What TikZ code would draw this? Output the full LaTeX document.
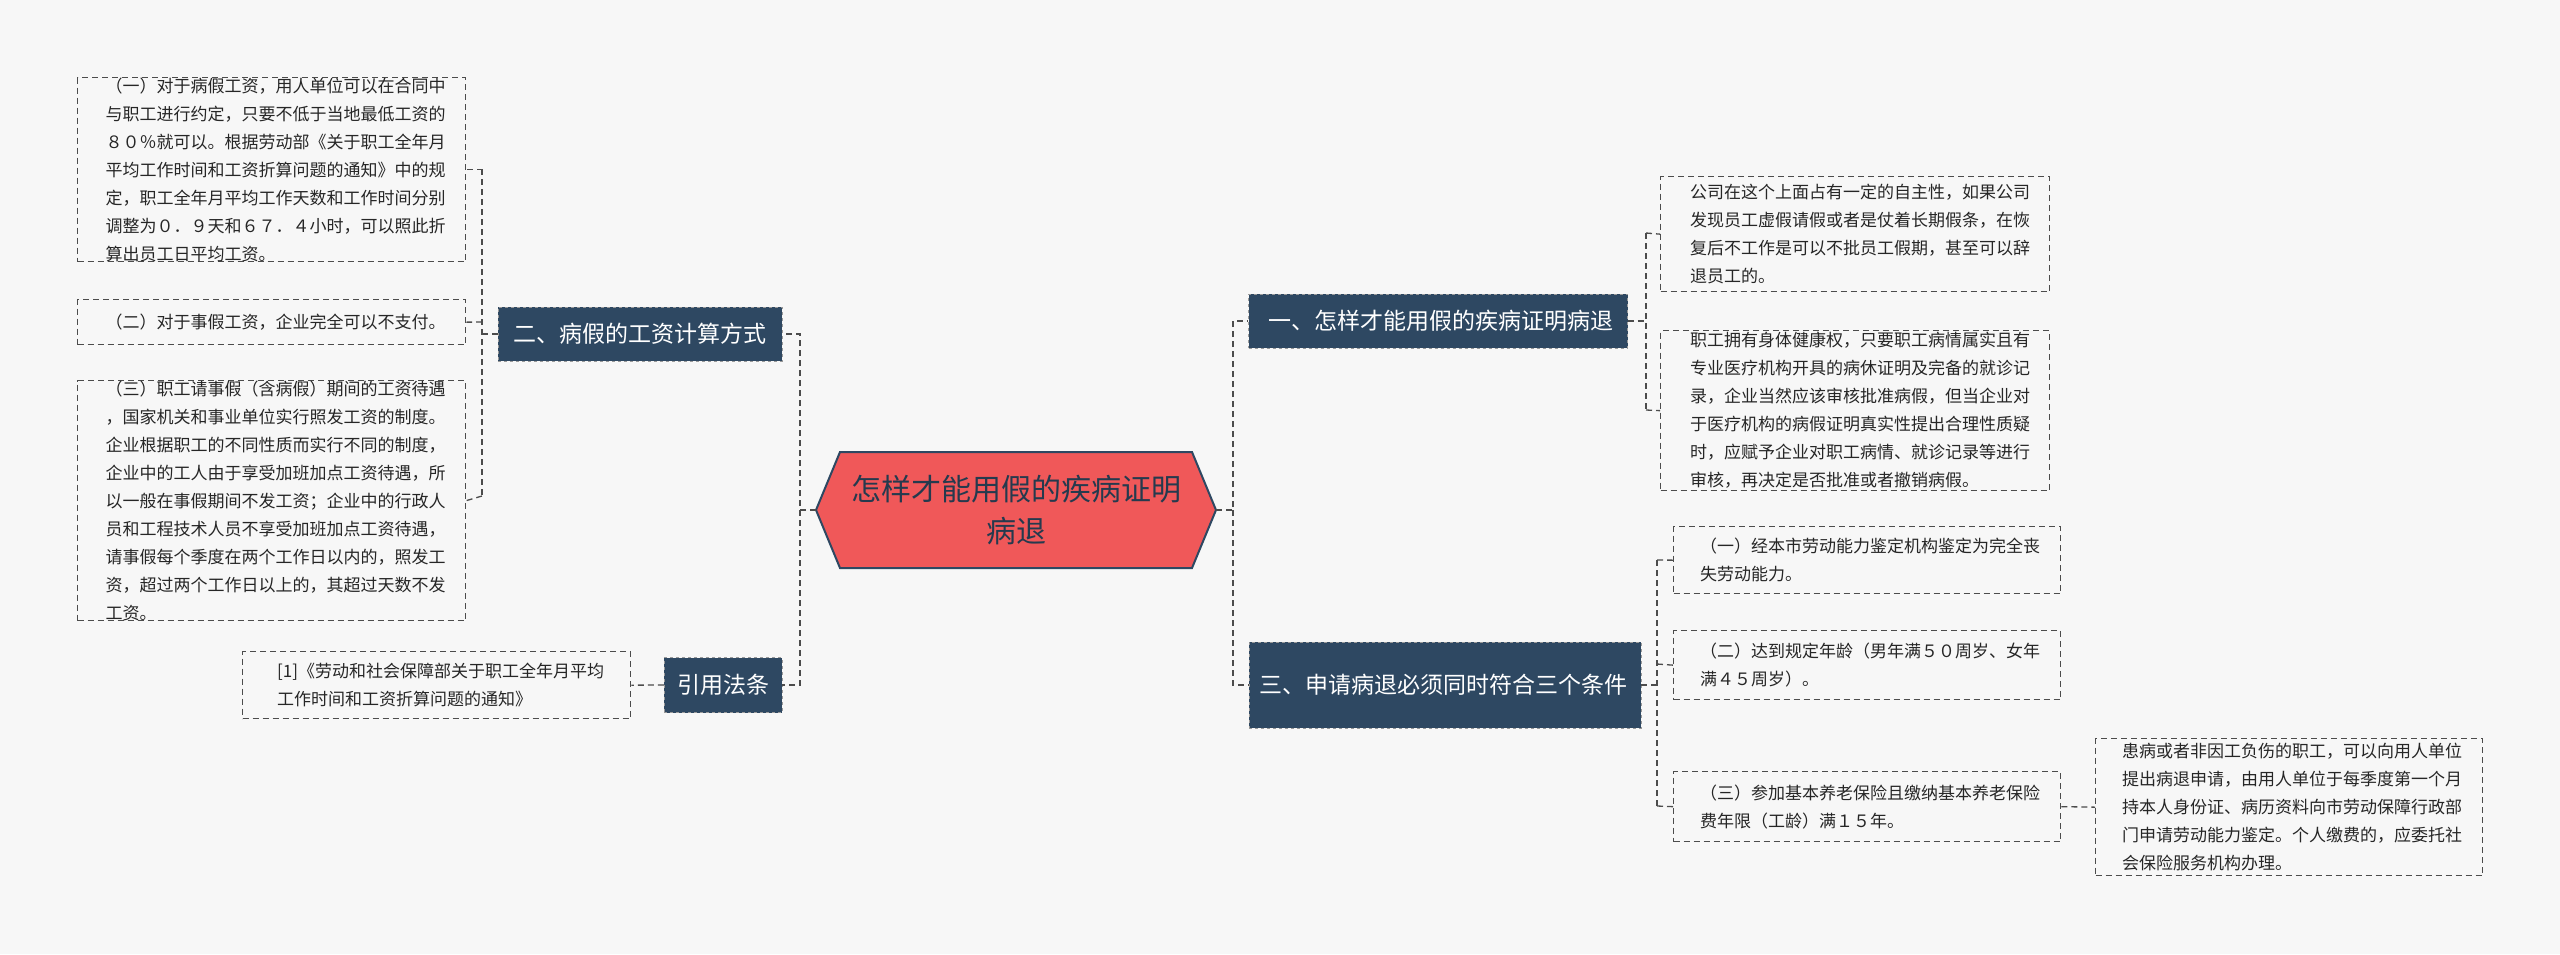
\documentclass[tikz,border=0pt]{standalone}
\usepackage{fontspec}
\setmainfont{Noto Sans CJK SC}
\begin{document}
\begin{tikzpicture}[x=1pt,y=-1pt,
 leaf/.style={draw=black!70,dashed,line width=1.3pt,dash pattern=on 6pt off 4pt,align=left,anchor=north west,inner sep=0pt,font=\fontsize{17}{28}\selectfont,text=black!85},
 br/.style={fill=black!70!blue!40!gray,fill=brc,draw=black!40,dashed,text=white,font=\fontsize{23}{30}\selectfont,align=left,inner sep=0pt},
 con/.style={draw=black!70,line width=1.3pt,dash pattern=on 6pt off 4pt}]
\definecolor{brc}{HTML}{2E4862}
\definecolor{ctr}{HTML}{F05859}
\fill[black!3] (0,0) rectangle (2560,954);
\useasboundingbox (0,0) rectangle (2560,954);
% center
\coordinate (c1) at (840,452); \coordinate (c2) at (1192,452);
\coordinate (c3) at (1216,510); \coordinate (c4) at (1192,568);
\coordinate (c5) at (840,568); \coordinate (c6) at (816,510);
\fill[ctr,draw=brc,line width=2pt] (c1)--(c2)--(c3)--(c4)--(c5)--(c6)--cycle;
\node[align=center,font=\fontsize{30}{42}\selectfont,text=brc!80!black] (C) at (1016,510) {怎样才能用假的疾病证明\\病退};
% branches
\node[br,minimum width=284,minimum height=54] (B2) at (640,334) {二、病假的工资计算方式};
\node[br,minimum width=118,minimum height=55] (B4) at (723,685) {引用法条};
\node[br,minimum width=379,minimum height=54] (B1) at (1438,321) {\ 一、怎样才能用假的疾病证明病退};
\node[br,minimum width=392,minimum height=86,text width=372] (B3) at (1445,685) {三、申请病退必须同时符合三个条件};
% left leaves
\node[leaf,minimum width=388,minimum height=184] (L1) at (77,77) {\raisebox{0pt}{}\hspace{8pt}（一）对于病假工资，用人单位可以在合同中\\\hspace{8pt}与职工进行约定，只要不低于当地最低工资的\\\hspace{8pt}８０％就可以。根据劳动部《关于职工全年月\\\hspace{8pt}平均工作时间和工资折算问题的通知》中的规\\\hspace{8pt}定，职工全年月平均工作天数和工作时间分别\\\hspace{8pt}调整为０．９天和６７．４小时，可以照此折\\\hspace{8pt}算出员工日平均工资。};
\node[leaf,minimum width=388,minimum height=45] (L2) at (77,299) {\hspace{8pt}（二）对于事假工资，企业完全可以不支付。};
\node[leaf,minimum width=388,minimum height=232] (L3) at (77,380) {\hspace{8pt}（三）职工请事假（含病假）期间的工资待遇\\\hspace{8pt}，国家机关和事业单位实行照发工资的制度。\\\hspace{8pt}企业根据职工的不同性质而实行不同的制度，\\\hspace{8pt}企业中的工人由于享受加班加点工资待遇，所\\\hspace{8pt}以一般在事假期间不发工资；企业中的行政人\\\hspace{8pt}员和工程技术人员不享受加班加点工资待遇，\\\hspace{8pt}请事假每个季度在两个工作日以内的，照发工\\\hspace{8pt}资，超过两个工作日以上的，其超过天数不发\\\hspace{8pt}工资。};
\node[leaf,minimum width=388,minimum height=67] (L4) at (242,651) {\hspace{8pt}[1]《劳动和社会保障部关于职工全年月平均\\\hspace{8pt}工作时间和工资折算问题的通知》};
% right leaves
\node[leaf,minimum width=389,minimum height=115] (R1) at (1660,176) {\hspace{10pt}公司在这个上面占有一定的自主性，如果公司\\\hspace{10pt}发现员工虚假请假或者是仗着长期假条，在恢\\\hspace{10pt}复后不工作是可以不批员工假期，甚至可以辞\\\hspace{10pt}退员工的。};
\node[leaf,minimum width=389,minimum height=160] (R2) at (1660,330) {\hspace{10pt}职工拥有身体健康权，只要职工病情属实且有\\\hspace{10pt}专业医疗机构开具的病休证明及完备的就诊记\\\hspace{10pt}录，企业当然应该审核批准病假，但当企业对\\\hspace{10pt}于医疗机构的病假证明真实性提出合理性质疑\\\hspace{10pt}时，应赋予企业对职工病情、就诊记录等进行\\\hspace{10pt}审核，再决定是否批准或者撤销病假。};
\node[leaf,minimum width=387,minimum height=67] (R3) at (1673,526) {\hspace{6pt}（一）经本市劳动能力鉴定机构鉴定为完全丧\\\hspace{6pt}失劳动能力。};
\node[leaf,minimum width=387,minimum height=69] (R4) at (1673,630) {\hspace{6pt}（二）达到规定年龄（男年满５０周岁、女年\\\hspace{6pt}满４５周岁）。};
\node[leaf,minimum width=387,minimum height=70] (R5) at (1673,771) {\hspace{6pt}（三）参加基本养老保险且缴纳基本养老保险\\\hspace{6pt}费年限（工龄）满１５年。};
\node[leaf,minimum width=387,minimum height=137] (R6) at (2095,738) {\hspace{6pt}患病或者非因工负伤的职工，可以向用人单位\\\hspace{6pt}提出病退申请，由用人单位于每季度第一个月\\\hspace{6pt}持本人身份证、病历资料向市劳动保障行政部\\\hspace{6pt}门申请劳动能力鉴定。个人缴费的，应委托社\\\hspace{6pt}会保险服务机构办理。};
% connectors
\draw[con] (c6) -- (800,510) |- (B2.east);
\draw[con] (800,510) |- (B4.east);
\draw[con] (c3) -- (1233,510) |- (B1.west);
\draw[con] (1233,510) |- (B3.west);
\draw[con] (B2.west) -- (482,334);
\draw[con] (482,169) |- (L1.east);
\draw[con] (482,169) -- (482,496);
\draw[con] (482,322) -- (L2.east);
\draw[con] (482,496) -- (L3.east);
\draw[con] (B4.west) -- (L4.east);
\draw[con] (B1.east) -- (1646,321);
\draw[con] (1646,233) -- (1646,410);
\draw[con] (1646,233) -- (R1.west);
\draw[con] (1646,410) -- (R2.west);
\draw[con] (B3.east) -- (1657,685);
\draw[con] (1657,560) -- (1657,806);
\draw[con] (1657,560) -- (R3.west);
\draw[con] (1657,664) -- (R4.west);
\draw[con] (1657,806) -- (R5.west);
\draw[con] (R5.east) -- (R6.west);
\end{tikzpicture}
\end{document}
